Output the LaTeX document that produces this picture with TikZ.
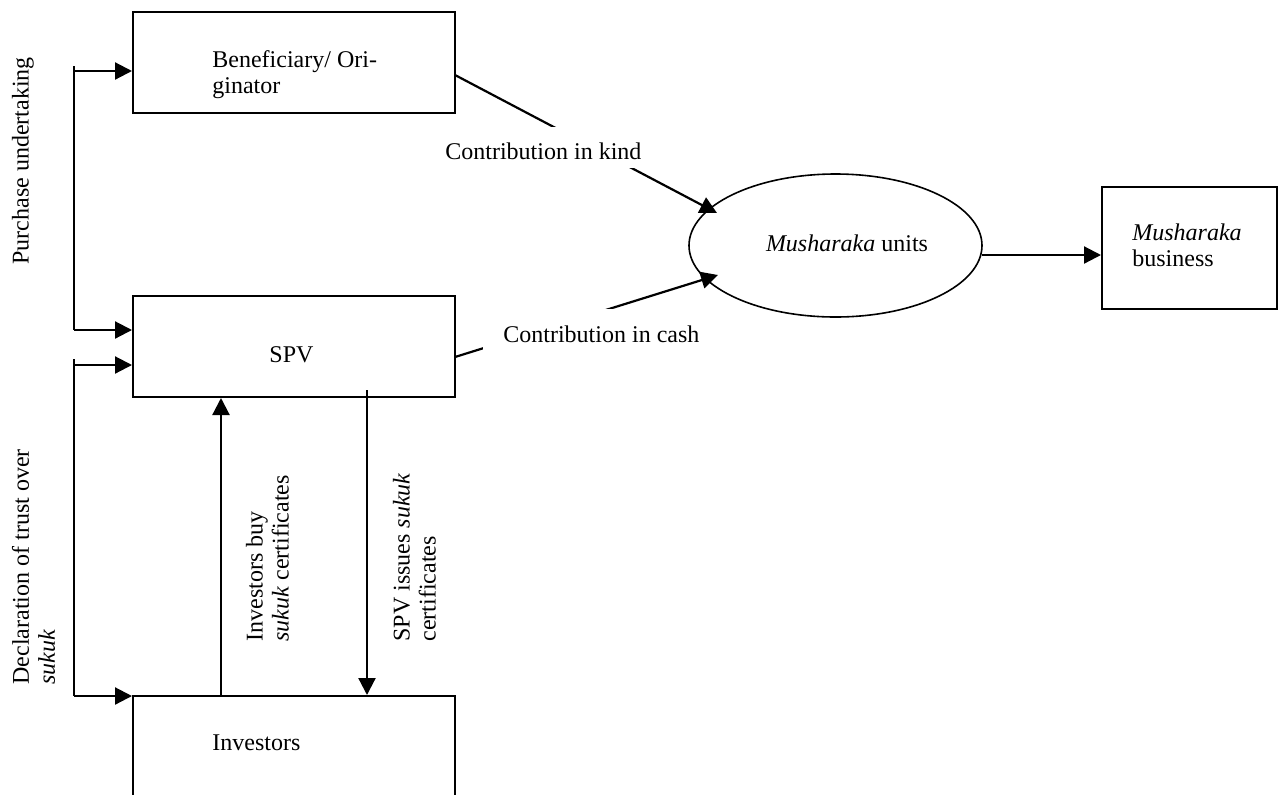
\documentclass[tikz,border=0pt]{standalone}
\usepackage{fontspec}
\setmainfont{Liberation Serif}
\usetikzlibrary{arrows.meta,shapes.geometric}
\begin{document}
\begin{tikzpicture}[x=0.5pt,y=-0.5pt,
  box/.style={draw,line width=1pt,rectangle,inner sep=0pt,minimum width=161pt},
  arr/.style={line width=1.1pt,-{Triangle[length=8.5pt,width=8.5pt]}},
  ln/.style={line width=1.1pt},
  txt/.style={font=\fontsize{12pt}{13pt}\selectfont,inner sep=0pt},
  lbl/.style={txt,fill=white,inner ysep=0pt},
  vtxt/.style={txt,rotate=90,anchor=west,align=left}]
\useasboundingbox (0,0) rectangle (1281,794);
\clip (0,0) rectangle (1281,794);

% boxes
\node[box,minimum height=50.5pt] (ben) at (294,62.5) {};
\node[box,minimum height=50.5pt] (spv) at (294,346.5) {};
\node[box,minimum height=102pt] (inv) at (294,798) {};
\node[box,minimum width=87.5pt,minimum height=61pt] (bus) at (1189.5,248) {};
\node[draw,ellipse,line width=0.8pt,minimum width=146.5pt,minimum height=71.5pt,inner sep=0pt] (mu) at (835.5,245.5) {};

% box texts
\node[txt,anchor=base west,align=left] (bent) at (212,93) {Beneficiary/ Ori-\\ginator};
\node[txt,anchor=base] (spvt) at (291.5,362) {SPV};
\node[txt,anchor=base west] (invt) at (212,750) {Investors};
\node[txt,anchor=base west,align=left] (bust) at (1132,266) {\textit{Musharaka}\\business};
\node[txt,anchor=base] (mut) at (847,251) {\textit{Musharaka} units};

% vertical labels
\node[vtxt] (pu) at (23,265) {Purchase undertaking};
\node[vtxt] (dt) at (33.5,685) {Declaration of trust over\\\textit{sukuk}};
\node[vtxt] (ib) at (267.5,642) {Investors buy\\\textit{sukuk} certificates};
\node[vtxt] (si) at (414.5,642) {SPV issues \textit{sukuk}\\certificates};

% left connectors
\coordinate (pu0) at (74,66);
\coordinate (pu1) at (74,71);
\coordinate (pu2) at (74,330);
\draw[ln] (pu0) -- (pu2);
\draw[arr] (pu1) -- (pu1 -| ben.west);
\draw[arr] (pu2) -- (pu2 -| spv.west);
\coordinate (dt0) at (74,359);
\coordinate (dt1) at (74,365);
\coordinate (dt2) at (74,696);
\draw[ln] (dt0) -- (dt2);
\draw[arr] (dt1) -- (dt1 -| spv.west);
\draw[arr] (dt2) -- (dt2 -| inv.west);

% investors <-> SPV
\coordinate (ibx) at (221,0);
\draw[arr] (inv.north -| ibx) -- (spv.south -| ibx);
\coordinate (six) at (367,390);
\draw[arr] (six) -- (inv.north -| six);

% contributions
\coordinate (k0) at (455,75);
\coordinate (k1) at (717,213);
\draw[arr] (k0) -- (k1);
\coordinate (c0) at (455,357);
\coordinate (c1) at (718,275);
\draw[arr] (c0) -- (c1);
\coordinate (m0) at (982,255);
\draw[arr] (m0) -- (m0 -| bus.west);

% labels masking lines
\node[lbl,anchor=base west,inner xsep=2pt,text height=16pt,text depth=4.5pt] (kind) at (441,159) {Contribution in kind};
\node[lbl,anchor=base west,inner xsep=10pt,text height=16.5pt,text depth=5pt] (cash) at (483,342) {Contribution in cash};
\end{tikzpicture}
\end{document}
